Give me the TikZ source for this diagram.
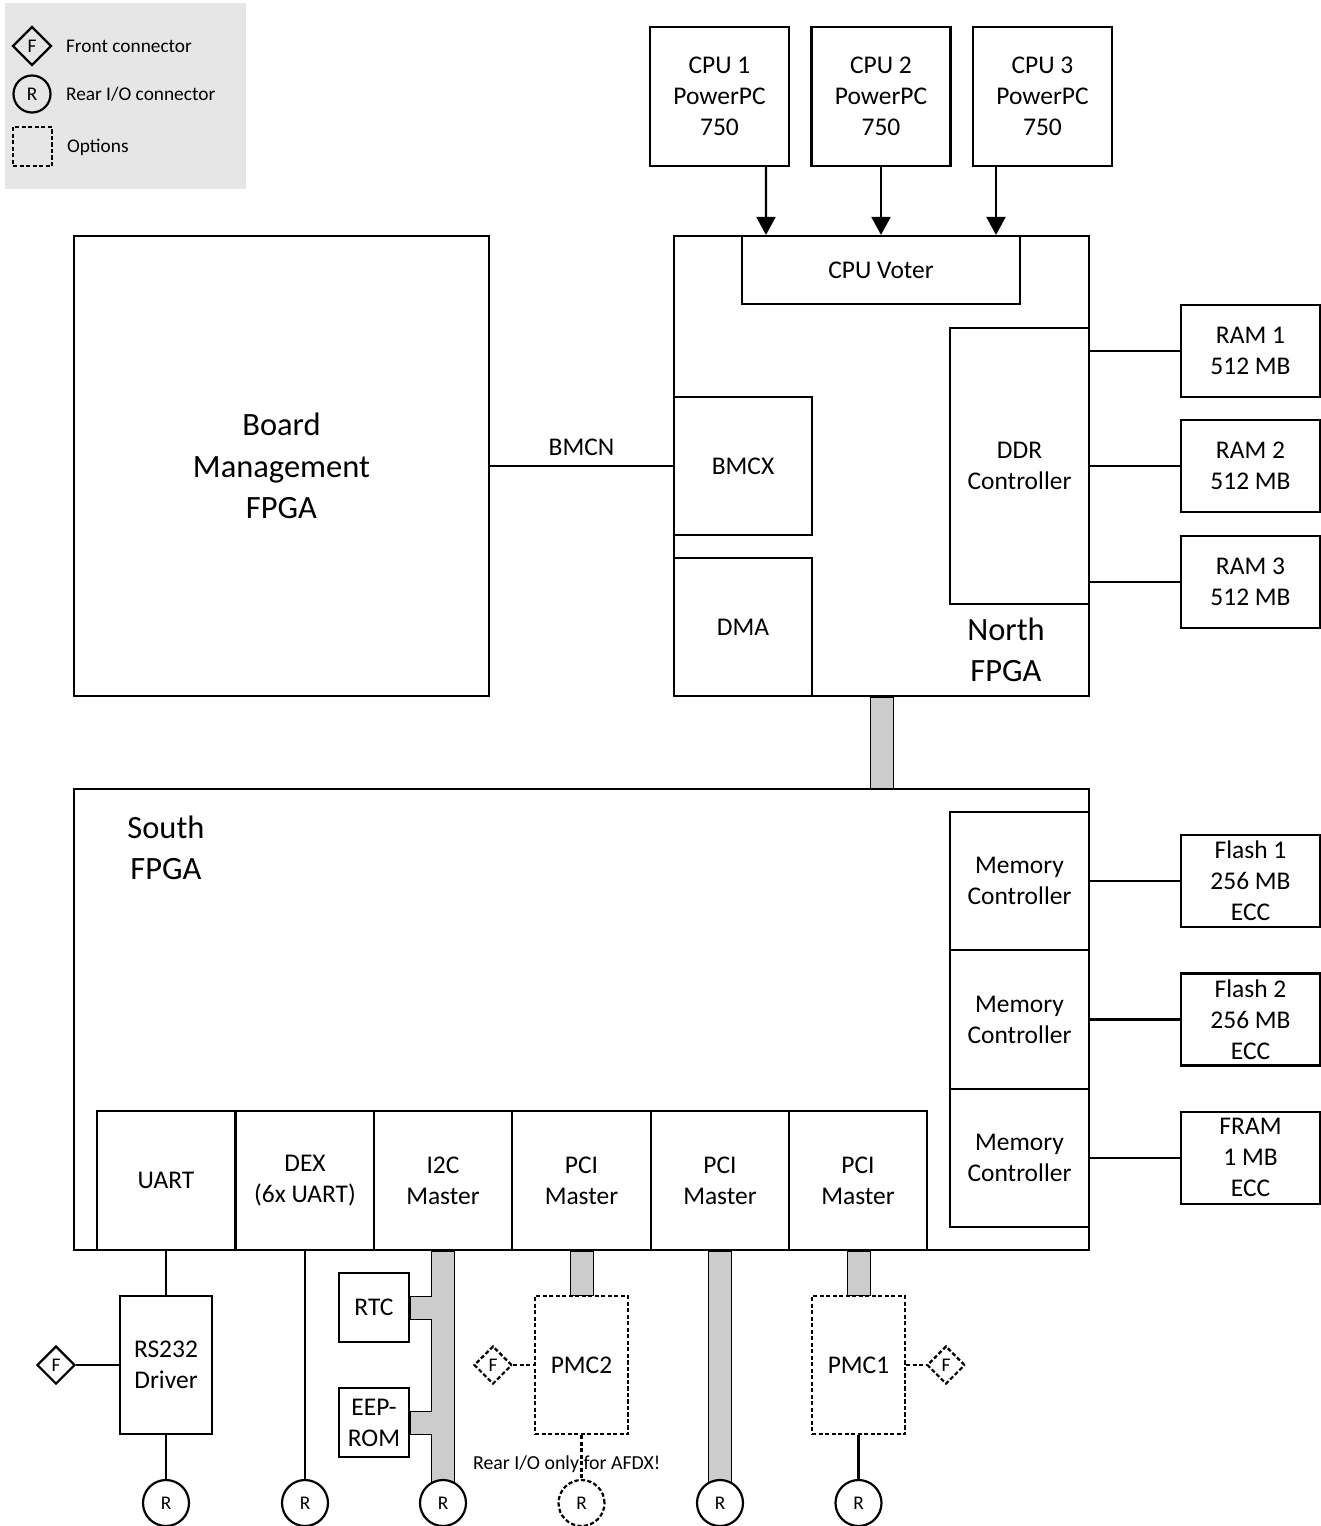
\documentclass[tikz,border=0pt]{standalone}
\usepackage{fontspec}
\setmainfont{Carlito}
\usetikzlibrary{arrows.meta,calc,shapes.geometric}
\pgfdeclarelayer{bg}\pgfsetlayers{bg,main}
\definecolor{legendgray}{HTML}{E6E6E6}
\definecolor{busgray}{HTML}{CCCCCC}
\def\px{0.02cm}

\begin{document}
\begin{tikzpicture}[x=\px,y=-\px,line width=1.25pt,every node/.style={inner sep=0pt,align=center,font=\fontsize{14.5}{17.6}\selectfont},blk/.style 2 args={draw,minimum width=#1*\px,minimum height=#2*\px},bigtxt/.style={font=\fontsize{18.5}{23.5}\selectfont},legtxt/.style={font=\fontsize{11}{13}\selectfont},notetxt/.style={font=\fontsize{11.3}{13}\selectfont},opt/.style={dash pattern=on 2.4pt off 1.3pt},front/.style={diamond,draw,minimum width=38*\px,minimum height=38*\px,font=\fontsize{11}{12}\selectfont},rear/.style={circle,draw,fill=white,minimum size=46*\px,font=\fontsize{11}{12}\selectfont},bus/.style={draw,fill=busgray},feed/.style={-{Triangle[width=0.38cm,length=0.36cm]}}]
\useasboundingbox (0,0) rectangle (1321,1526);
% legend
\fill[legendgray] (5,3) rectangle (246,189);
\node[front,minimum width=39*\px,minimum height=39*\px] (keyF) at (32,46) {F};\node[legtxt,anchor=west] (keyFt) at (65,46) {Front connector};
\node[rear,fill=none,minimum size=37*\px] (keyR) at (32,94) {R};\node[legtxt,anchor=west] (keyRt) at (65,94) {Rear I/O connector};
\node[blk={39}{39},opt] (keyO) at (32.5,146.5) {};\node[legtxt,anchor=west] (keyOt) at (66,147) {Options};
% north side
\foreach \i/\x in {1/719.5,2/881,3/1042.5}\node[blk={139}{139}] (cpu\i) at (\x,96.5) {CPU \i\\PowerPC\\750};
\node[blk={415}{460}] (north) at (881.5,466) {};\node[bigtxt] (northlbl) at (1006,650) {North\\FPGA};
\node[blk={278}{68}] (voter) at (881,270) {CPU Voter};
\node[blk={138}{138}] (bmcx) at (743,466) {BMCX};\node[blk={138}{138}] (dma) at (743,627) {DMA};
\node[blk={139}{276}] (ddr) at (1019.5,466) {DDR\\Controller};
\draw[feed] ($(cpu1.south)+(46.5,0)$) -- ($(voter.north)+(-115,0)$);\draw[feed] (cpu2) -- (voter);\draw[feed] ($(cpu3.south)+(-46.5,0)$) -- ($(voter.north)+(115,0)$);
\foreach \i/\y in {1/351,2/466,3/582}{\node[blk={139}{92}] (ram\i) at (1250.5,\y) {RAM \i\\512 MB};\draw (ram\i.west -| ddr.east) -- (ram\i.west);}
\node[blk={415}{460},bigtxt] (bmf) at (281.5,466) {Board\\Management\\FPGA};
\draw (bmf) -- (bmcx) node[midway,yshift=19*\px] (bmcn) {BMCN};
% south side
\node[blk={1015}{461}] (south) at (581.5,1019.5) {};\node[bigtxt] (southlbl) at (166,848) {South\\FPGA};
\foreach \i/\y/\lbl in {1/881/Flash 1\\256 MB\\ECC,2/1019.5/Flash 2\\256 MB\\ECC,3/1157.8/FRAM\\1 MB\\ECC}{\node[blk={139}{138.3}] (mc\i) at (1019.5,\y) {Memory\\Controller};\node[blk={139}{92}] (mem\i) at (1250.5,\y) {\lbl};\draw (mc\i) -- (mem\i);}
\foreach \n/\x/\lbl in {uart/166/UART,dex/305/DEX\\(6x UART),itc/443/I2C\\Master,pciA/581.5/PCI\\Master,pciB/720/PCI\\Master,pciC/858/PCI\\Master}\node[blk={138.3}{139}] (\n) at (\x,1180.5) {\lbl};
% below the south FPGA
\node[blk={92}{138}] (rs) at (166,1365) {RS232\\Driver};\node[front] (frA) at (56,1365) {F};
\node[blk={70}{69}] (rtc) at (374,1307.5) {RTC};\node[blk={70}{69}] (eep) at (374,1422.5) {EEP-\\ROM};
\node[blk={93}{138},opt] (pmc2) at (581.5,1365) {PMC2};\node[front,opt] (frB) at (493,1365) {F};
\node[blk={93}{138},opt] (pmc1) at (858.5,1365) {PMC1};\node[front,opt] (frC) at (946,1365) {F};
\foreach \n/\x in {rA/166,rB/305,rC/443,rE/720,rF/858.5}\node[rear] (\n) at (\x,1503) {R};
\node[rear,opt] (rD) at (581.5,1503) {R};
\node[notetxt] (afdx) at (566.7,1464) {Rear I/O only for AFDX!};
\draw (uart) -- (rs);\draw (frA) -- (rs);\draw (rs) -- (rA);\draw (dex) -- (rB);
\draw[opt] (frB) -- (pmc2);\draw[opt] (pmc2) -- (rD);\draw[opt] (pmc1) -- (frC);\draw (pmc1) -- (rF);
\coordinate (iL) at ($(itc.south)+(-11.5,0)$);\coordinate (iR) at ($(itc.south)+(11.5,0)$);\coordinate (iEnd) at ($(rC)+(0,-19)$);
\begin{pgfonlayer}{bg}
\fill[white] (0,0) rectangle (1321,1526);
\path[bus] ($(north.south)+(-11.5,0)$) rectangle ($(north.south |- south.north)+(11.5,0)$);
\path[bus] (iL) |- ($(rtc.east)+(0,-11.5)$) -- ($(rtc.east)+(0,11.5)$) -| ($(eep.east -| iL)+(0,-11.5)$) -- ($(eep.east)+(0,-11.5)$) -- ($(eep.east)+(0,11.5)$) -| (iEnd -| iL) -- (iEnd -| iR) -- (iR) -- cycle;
\path[bus] ($(pmc2.north)+(-11.5,0)$) rectangle ($(pmc2.north |- pciA.south)+(11.5,0)$);
\path[bus] ($(pmc1.north)+(-11.5,0)$) rectangle ($(pmc1.north |- pciC.south)+(11.5,0)$);
\path[bus] ($(rE)+(-11.5,-19)$) rectangle ($(rE |- pciB.south)+(11.5,0)$);
\end{pgfonlayer}
\end{tikzpicture}
\end{document}
